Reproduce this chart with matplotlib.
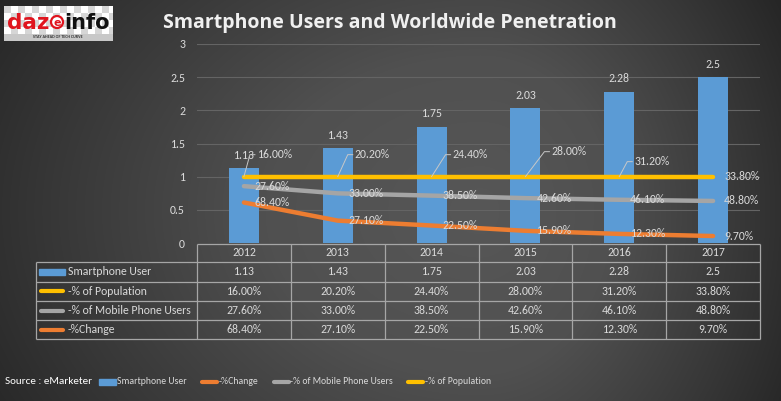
import numpy as np
import matplotlib
matplotlib.use("Agg")
import matplotlib.pyplot as plt
from matplotlib import font_manager
from matplotlib.patches import Rectangle, Circle

# ---------------- data ----------------
years = ["2012", "2013", "2014", "2015", "2016", "2017"]
smartphone_users = [1.13, 1.43, 1.75, 2.03, 2.28, 2.5]      # billions
pct_population = [16.0, 20.2, 24.4, 28.0, 31.2, 33.8]
pct_mobile_users = [27.6, 33.0, 38.5, 42.6, 46.1, 48.8]
pct_change = [68.4, 27.1, 22.5, 15.9, 12.3, 9.7]
y_ticks = [0, 0.5, 1, 1.5, 2, 2.5, 3]
row_labels = ["Smartphone User", "-% of Population", "-% of Mobile Phone Users", "-%Change"]
legend_labels = ["Smartphone User", "-%Change", "-% of Mobile Phone Users", "-% of Population"]
title = "Smartphone Users and Worldwide Penetration"
source = "Source : eMarketer"

# ---------------- style ----------------
W, H = 781, 401
TXT = "#d9d9d9"
BLUE = "#5b9bd5"
YEL = "#ffc000"
GRAY = "#a5a5a5"
ORG = "#ed7d31"
GRID = "#646464"
TBL = "#a6a6a6"

avail = {f.name for f in font_manager.fontManager.ttflist}
def pick(*names):
    for n in names:
        if n in avail:
            return n
    return "DejaVu Sans"
BODY = pick("Carlito", "Lato", "Open Sans")
NARROW = pick("Carlito", "Liberation Sans Narrow", "DejaVu Sans Condensed", "Roboto Condensed", "Lato")
TITLEF = pick("Open Sans", "Lato")
plt.rcParams["font.family"] = [BODY, "DejaVu Sans"]

fig = plt.figure(figsize=(W / 100, H / 100), dpi=100)

# background gradient
yy, xx = np.mgrid[0:H, 0:W].astype(float)
rx = np.where(xx < 480, 430.0, 265.0)
ry = np.where(yy < 210, 310.0, 330.0)
d = np.sqrt(((xx - 480) / rx) ** 2 + ((yy - 210) / ry) ** 2)
c = np.interp(d, [0, 0.5, 1.0, 1.3, 2.0], [0x57, 0x50, 0x37, 0x27, 0x22])
bg = fig.add_axes([0, 0, 1, 1], zorder=-10)
bg.imshow(np.dstack([c, c, c]).astype(np.uint8), aspect="auto", interpolation="bilinear")
bg.axis("off")

# ---------------- main chart ----------------
L, R, T, B = 197, 760, 44, 243
ax = fig.add_axes([L / W, 1 - B / H, (R - L) / W, (B - T) / H], zorder=1)
ax.patch.set_alpha(0)
x = np.arange(len(years))
ax.set_xlim(-0.5, len(years) - 0.5)
ax.set_ylim(0, 3)
for s in ax.spines.values():
    s.set_visible(False)
ax.set_xticks([])
ax.set_yticks(y_ticks)
ax.set_yticklabels([f"{t:g}" for t in y_ticks])
ax.tick_params(axis="y", length=0, pad=8.6, colors=TXT, labelsize=8.5)
for t in y_ticks[1:]:
    ax.axhline(t, color=GRID, lw=0.8, zorder=0)

ax.bar(x, smartphone_users, width=0.32, color=BLUE, zorder=2)

pop = np.array(pct_population)
mob = np.array(pct_mobile_users)
chg = np.array(pct_change)
tot = pop + mob + chg
f_chg = chg / tot
f_mob = (chg + mob) / tot
f_pop = (chg + mob + pop) / tot
for yv, col in [(f_pop, YEL), (f_mob, GRAY), (f_chg, ORG)]:
    ax.plot(x, yv, color=col, lw=3.2, solid_capstyle="round", zorder=3)

# bar value labels
for i, v in enumerate(smartphone_users):
    ax.annotate(f"{v:g}", (i, v), xytext=(0, 13), textcoords="offset pixels",
                ha="center", va="center", color=TXT, fontsize=8.5, zorder=4)

for i in range(len(years)):
    ax.annotate(f"{pct_mobile_users[i]:.2f}%", (i, f_mob[i]), xytext=(11, 0), textcoords="offset pixels",
                ha="left", va="center", color=TXT, fontsize=8.5, zorder=4)
    ax.annotate(f"{pct_change[i]:.2f}%", (i, f_chg[i]), xytext=(11, 0), textcoords="offset pixels",
                ha="left", va="center", color=TXT, fontsize=8.5, zorder=4)

# overlay in pixel coordinates (from top-left)
ov = fig.add_axes([0, 0, 1, 1], zorder=5)
ov.set_xlim(0, W)
ov.set_ylim(H, 0)
ov.axis("off")
ov.patch.set_alpha(0)

yel_off = [(13, 22), (17, 22), (21, 22), (26, 25), (15, 15), (11, 0)]
fig.canvas.draw()
for i in range(len(years)):
    px, py = ax.transData.transform((i, f_pop[i]))
    X, Y = px, H - py
    dx, dy = yel_off[i]
    ov.text(X + dx, Y - dy, f"{pct_population[i]:.2f}%", ha="left", va="center",
            color=TXT, fontsize=8.5)
    if dy > 0:
        ov.plot([X, X + dx - 7, X + dx - 2], [Y, Y - dy, Y - dy], color="#c8c8c8", lw=0.7)

# ---------------- data table ----------------
TL, TT, TB = 36, 244, 339
tx = fig.add_axes([TL / W, 1 - TB / H, (R - TL) / W, (TB - TT) / H], zorder=1)
tx.patch.set_alpha(0)
tx.axis("off")
u = 1.0 / ((R - L) / len(years))      # one pixel in category units
left = -0.5 - (L - TL) * u
tx.set_xlim(left, len(years) - 0.5)
tx.set_ylim(TB, TT)
row_edges = [244, 262, 281.5, 301, 320, 339]
kw = dict(color=TBL, lw=0.9, clip_on=False, solid_capstyle="butt")
tx.plot([-0.5, len(years) - 0.5], [row_edges[0]] * 2, **kw)
for yb in row_edges[1:]:
    tx.plot([left, len(years) - 0.5], [yb, yb], **kw)
tx.plot([left, left], [row_edges[1], row_edges[-1]], **kw)
for k in range(len(years) + 1):
    tx.plot([k - 0.5] * 2, [row_edges[0], row_edges[-1]], **kw)

hc = (row_edges[0] + row_edges[1]) / 2
for i, yr in enumerate(years):
    tx.text(i, hc, yr, ha="center", va="center", color=TXT, fontsize=8.5)

rows = [[f"{v:g}" for v in smartphone_users],
        [f"{v:.2f}%" for v in pct_population],
        [f"{v:.2f}%" for v in pct_mobile_users],
        [f"{v:.2f}%" for v in pct_change]]
row_cols = [BLUE, YEL, GRAY, ORG]
for r in range(4):
    yc = (row_edges[r + 1] + row_edges[r + 2]) / 2
    if r == 0:
        tx.add_patch(Rectangle((left + 3 * u, yc - 3), 26 * u, 6, color=BLUE))
    else:
        tx.plot([left + 5 * u, left + 27 * u], [yc, yc], color=row_cols[r], lw=3,
                solid_capstyle="round")
    tx.text(left + 32 * u, yc, row_labels[r], ha="left", va="center", color=TXT, fontsize=8.5)
    for i in range(len(years)):
        tx.text(i, yc, rows[r][i], ha="center", va="center", color=TXT, fontsize=8.5)

# ---------------- title ----------------
ov.text(390, 23, title, ha="center", va="center", fontsize=14, fontweight="bold",
        family=[TITLEF, "DejaVu Sans"], color="#f0f0f0")

# ---------------- bottom legend ----------------
renderer = fig.canvas.get_renderer()
st = ov.text(5, 382, source, ha="left", va="center", fontsize=8, color="#ffffff",
             family=[NARROW, "DejaVu Sans"])
cur = 5 + st.get_window_extent(renderer=renderer).width + 7
leg_cols = [BLUE, ORG, GRAY, YEL]
for col, lab in zip(leg_cols, legend_labels):
    x0, x1 = cur, cur + 17
    if col == BLUE:
        ov.add_patch(Rectangle((x0, 379), x1 - x0, 6, color=BLUE))
    else:
        ov.plot([x0 + 1, x1 - 1], [382, 382], color=col, lw=3, solid_capstyle="round")
    t = ov.text(x1 + 1, 382, lab, ha="left", va="center", fontsize=7, color=TXT,
                family=[NARROW, "DejaVu Sans"])
    wpx = t.get_window_extent(renderer=renderer).width
    cur = x1 + 1 + wpx + 14

# ---------------- logo ----------------
ov.add_patch(Rectangle((4, 6), 109, 35, facecolor="white", edgecolor="none"))
for ci in range(16):
    for rj in range(5):
        if (ci + rj) % 2 == 0:
            w = min(7, 113 - (4 + ci * 7))
            if w > 0:
                ov.add_patch(Rectangle((4 + ci * 7, 6 + rj * 7), w, 7, facecolor="#d6d6d6",
                                       edgecolor="none"))
ov.add_patch(Rectangle((4, 34), 109, 7, facecolor="#c8c8c8", edgecolor="none"))
ov.text(7, 29, "daz", ha="left", va="baseline", fontsize=15.5, fontweight="bold",
        color="#e0141e", family=["DejaVu Sans"])
ov.add_patch(Circle((57, 22), 6, facecolor="white", edgecolor="#e0141e", lw=1.6))
ov.text(57, 22.5, "e", ha="center", va="center", fontsize=8, fontweight="bold",
        color="#e0141e", family=["DejaVu Sans"])
ov.text(64, 29, "info", ha="left", va="baseline", fontsize=15, fontweight="bold",
        color="#111111", family=["DejaVu Sans"])
ov.text(58, 37.5, "STAY AHEAD OF TECH CURVE", ha="center", va="center", fontsize=3,
        color="#333333", fontweight="bold")

fig.savefig("out.png", dpi=100)
